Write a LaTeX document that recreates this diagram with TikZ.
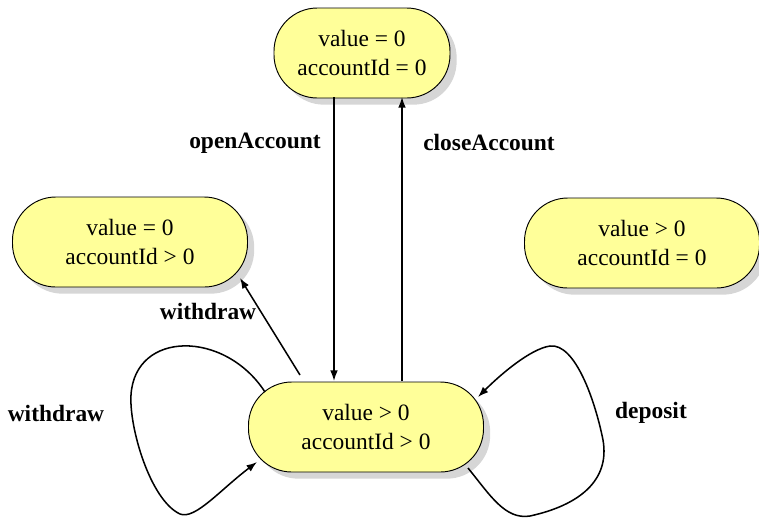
\documentclass[tikz,border=0pt]{standalone}
\usepackage{fontspec}
\setmainfont{Liberation Serif}
\usetikzlibrary{arrows.meta,shadows}
\definecolor{stateyellow}{RGB}{255,255,153}
\begin{document}
\begin{tikzpicture}[x=0.03cm, y=-0.03cm,
  state/.style={draw, line width=0.8pt, fill=stateyellow, rounded corners=1.3cm,
    minimum width=7.05cm, minimum height=2.7cm, align=center,
    font=\fontsize{20}{25}\selectfont,
    drop shadow={shadow xshift=0.2cm, shadow yshift=-0.2cm, fill=black!16, opacity=1}},
  trans/.style={line width=1.3pt, -{Latex[length=9pt,width=6.5pt]}},
  lbl/.style={font=\fontsize{20}{24}\selectfont\bfseries}]
  \useasboundingbox (0,0) rectangle (759,519);
  \node[state, minimum width=5.28cm] (s00) at (362,53) {value = 0\\accountId = 0};
  \node[state] (s0p) at (130,242) {value = 0\\accountId > 0};
  \node[state] (sp0) at (642,243) {value > 0\\accountId = 0};
  \node[state] (spp) at (366,427) {value > 0\\accountId > 0};
  \node[lbl] (open) at (255,143) {openAccount};
  \node[lbl] (close) at (489,143) {closeAccount};
  \node[lbl] (wd1) at (208,311) {withdraw};
  \node[lbl] (wd2) at (56,413) {withdraw};
  \node[lbl] (dep) at (651,413) {deposit};
  \draw[trans] ([shift={(-28,44)}]s00.center) -- ([shift={(-32,-46)}]spp.center);
  \draw[trans] ([shift={(36,-46)}]spp.center) -- ([shift={(40,44)}]s00.center);
  \draw[trans] ([shift={(-66,-52)}]spp.center) -- ([shift={(110,36)}]s0p.center);
  \draw[trans] ([shift={(-101,-35)}]spp.center) .. controls (225,330) and (135,330) .. (131,395)
    .. controls (129,427) and (150,500) .. (180,514) .. controls (195,520) and (220,490) .. ([shift={(-109,35)}]spp.center);
  \draw[trans] ([shift={(102,41)}]spp.center) .. controls (490,495) and (505,520) .. (530,516)
    .. controls (580,505) and (610,480) .. (603,440) .. controls (595,400) and (575,343) .. (550,346)
    .. controls (530,349) and (500,375) .. ([shift={(112,-30)}]spp.center);
\end{tikzpicture}
\end{document}
